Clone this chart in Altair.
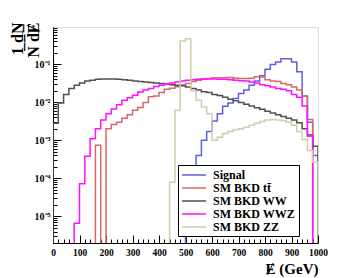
import altair as alt
import pandas as pd

# bin edges (GeV), 20 GeV bins
edges = list(range(0, 1001, 20))

names = ["Signal", "SM BKD tt\u0304", "SM BKD WW", "SM BKD WWZ", "SM BKD ZZ"]
colors = ["#5f5fe0", "#d46a6a", "#505050", "#ff10ff", "#d3cbad"]

signal = [0, 0, 0, 0, 0, 0, 0, 0, 0, 0,
          0, 0, 0, 0, 0, 0, 0, 0, 0, 0,
          0, 0, 0, 0, 0, 3e-5, 1e-4, 4e-4, 1.0e-3, 1.7e-3,
          3.2e-3, 5.0e-3, 7.8e-3, 9.5e-3, 0.0125, 0.017, 0.021, 0.028, 0.036, 0.050,
          0.074, 0.098, 0.115, 0.140, 0.140, 0.115, 0.063, 0.0145, 0.003, 4e-4]

ttbar = [0, 0, 0, 0, 0, 0, 0, 0, 7.4e-4, 0,
         0.0020, 0.0026, 0.0030, 0.0038, 0.0047, 0.0062, 0.0073, 0.0098, 0.0140, 0.0145,
         0.0180, 0.0220, 0.0235, 0.0255, 0.0285, 0.031, 0.035, 0.038, 0.040, 0.042,
         0.044, 0.044, 0.044, 0.045, 0.043, 0.042, 0.042, 0.043, 0.047, 0.046,
         0.039, 0.036, 0.035, 0.031, 0.029, 0.025, 0.021, 0.0143, 0.0035, 0]

ww = [0.0028, 0.0095, 0.016, 0.023, 0.028, 0.032, 0.036, 0.038, 0.040, 0.041,
      0.041, 0.041, 0.040, 0.039, 0.038, 0.036, 0.035, 0.034, 0.033, 0.032,
      0.031, 0.030, 0.029, 0.028, 0.027, 0.025, 0.023, 0.021, 0.019, 0.018,
      0.016, 0.015, 0.0135, 0.012, 0.011, 0.0098, 0.0089, 0.0080, 0.0072, 0.0065,
      0.0058, 0.0052, 0.0047, 0.0042, 0.0038, 0.0034, 0.0029, 0.0020, 0.0013, 0.0007]

wwz = [0, 0, 0, 0, 6.6e-6, 7.2e-5, 3.8e-4, 1.1e-3, 2.0e-3, 3.4e-3,
       5.0e-3, 6.6e-3, 8.6e-3, 0.0113, 0.0132, 0.0152, 0.0187, 0.021, 0.023, 0.026,
       0.028, 0.030, 0.032, 0.034, 0.036, 0.038, 0.039, 0.040, 0.041, 0.041,
       0.041, 0.040, 0.040, 0.039, 0.038, 0.037, 0.036, 0.034, 0.032, 0.029,
       0.027, 0.025, 0.023, 0.022, 0.020, 0.016, 0.0135, 0.0080, 0.0014, 0]

zz = [0, 0, 0, 0, 0, 0, 0, 0, 0, 0,
      0, 0, 0, 0, 0, 0, 0, 0, 0, 0,
      0, 0, 7.9e-5, 6.2e-3, 0.41, 0.47, 0.020, 0.0113, 0.0075, 0.0050,
      1.0e-3, 1.2e-3, 1.5e-3, 1.7e-3, 1.9e-3, 2.0e-3, 2.2e-3, 2.5e-3, 2.8e-3, 3.1e-3,
      3.4e-3, 3.5e-3, 3.4e-3, 3.3e-3, 3.0e-3, 2.5e-3, 1.7e-3, 1.05e-3, 5.4e-4, 2.7e-4]

x_major = [0, 100, 200, 300, 400, 500, 600, 700, 800, 900, 1000]
x_ticks = list(range(0, 1001, 20))
y_major = [1e-5, 1e-4, 1e-3, 1e-2, 1e-1]
y_ticks = [m * 10.0 ** e for e in range(-6, 0) for m in range(1, 10)]
y_ticks = [v for v in y_ticks if 2e-6 <= v <= 0.95]

FLOOR = 1e-8  # empty bins are drawn down to the frame bottom (clipped)

rows = []
for name, vals in zip(names, [signal, ttbar, ww, wwz, zz]):
    k = 0
    rows.append({"s": name, "o": k, "x": edges[0], "y": FLOOR}); k += 1
    for i, v in enumerate(vals):
        rows.append({"s": name, "o": k, "x": edges[i], "y": v if v > 0 else FLOOR}); k += 1
    last = vals[-1] if vals[-1] > 0 else FLOOR
    rows.append({"s": name, "o": k, "x": edges[-1], "y": last}); k += 1
    rows.append({"s": name, "o": k, "x": edges[-1], "y": FLOOR}); k += 1
df = pd.DataFrame(rows)

W, H = 265, 216
xscale = alt.Scale(domain=[0, 1000], nice=False, zero=False)
yscale = alt.Scale(type="log", domain=[2e-6, 0.95], nice=False)
FONT = "Liberation Serif"
TFONT = "'Liberation Serif', 'DejaVu Serif', serif"

ylab = ("datum.value > 0.05 ? '10\u207b\u00b9' : datum.value > 0.005 ? '10\u207b\u00b2' : "
        "datum.value > 0.0005 ? '10\u207b\u00b3' : datum.value > 0.00005 ? '10\u207b\u2074' : '10\u207b\u2075'")

lines = alt.Chart(df).mark_line(interpolate="step-after", clip=True, strokeWidth=1.5).encode(
    x=alt.X("x:Q", scale=xscale,
            axis=alt.Axis(orient="bottom", values=x_major, format="d", ticks=False, grid=False,
                          domain=True, domainColor="black", labelFont=FONT, labelFontWeight="bold",
                          labelFontSize=9.5, labelColor="black", labelPadding=4, labelFlush=False,
                          labelOverlap=False,
                          title="\u0246 (GeV)", titleFont=TFONT, titleFontSize=15, titleFontWeight="bold",
                          titleColor="black", titleAnchor="end", titleAlign="right",
                          titleX=W, titleY=30, titleBaseline="alphabetic")),
    y=alt.Y("y:Q", scale=yscale,
            axis=alt.Axis(orient="left", values=y_major, labelExpr=ylab, ticks=False, grid=False,
                          domain=True, domainColor="black", labelFont=FONT, labelFontWeight="bold",
                          labelFontSize=10, labelColor="black", labelPadding=3, labelOverlap=False,
                          labelFlush=False,
                          title=["1\u0332   d\u0332N\u0332", "N  d\u0246"], titleFont=TFONT,
                          titleFontSize=16, titleFontWeight="bold", titleColor="black",
                          titleAngle=270, titleAlign="right", titleBaseline="alphabetic",
                          titleX=-31, titleY=-5, titleLineHeight=16)),
    color=alt.Color("s:N", scale=alt.Scale(domain=names, range=colors),
                    legend=alt.Legend(orient="none", legendX=125, legendY=138, title=None,
                                      symbolType="M-2,0H2", symbolStrokeWidth=1.5, symbolSize=144,
                                      labelFont=FONT, labelFontWeight="bold", labelFontSize=12,
                                      labelColor="black", strokeColor="black", fillColor="white",
                                      padding=3, rowPadding=0, labelOffset=12, symbolOffset=6,
                                      labelLimit=200)),
    order=alt.Order("o:Q"),
    detail="s:N",
)

tickpos = alt.Chart(df).mark_point(opacity=0).encode(
    x=alt.X("x:Q", scale=xscale,
            axis=alt.Axis(orient="top", offset=-H, values=x_ticks, labels=False, domain=False,
                          grid=False, title="", tickColor="black", tickWidth=1,
                          tickSize={"condition": {"test": "datum.value % 100 == 0", "value": 8}, "value": 4})),
    y=alt.Y("y:Q", scale=yscale,
            axis=alt.Axis(orient="right", offset=-W, values=y_ticks, labels=False, domain=False,
                          grid=False, title="", tickColor="black", tickWidth=1,
                          tickSize={"condition": {"test": "abs(log(datum.value)/LN10 - round(log(datum.value)/LN10)) < 0.01", "value": 8}, "value": 4})),
)

chart = alt.layer(lines, tickpos).resolve_axis(x="independent", y="independent").properties(
    width=W, height=H,
    padding={"left": 45, "top": 19, "right": 20, "bottom": 35},
    autosize=alt.AutoSizeParams(type="none"),
).configure_view(stroke="black", strokeWidth=1.2).configure(background="white")

chart.save("out.html", embed_options={"renderer": "svg", "actions": False})
